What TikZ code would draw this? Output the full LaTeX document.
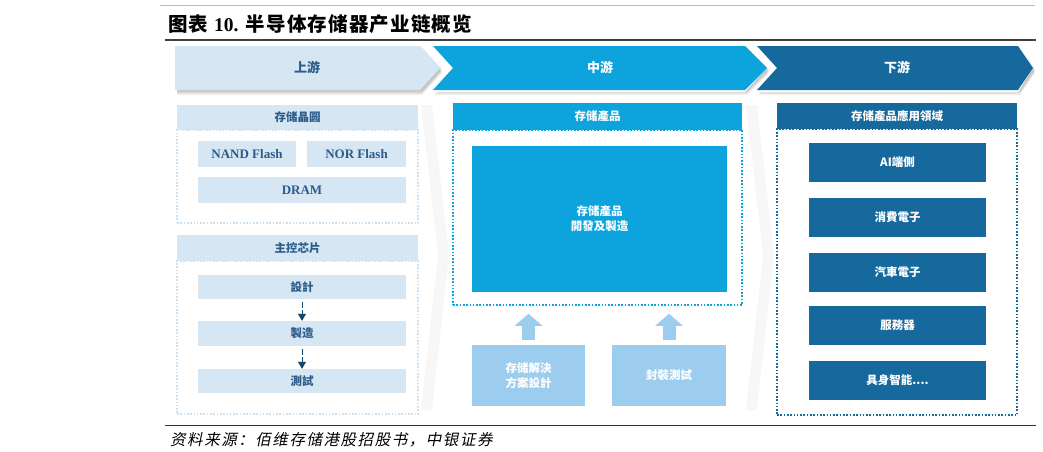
\documentclass[tikz,border=0pt]{standalone}
\usepackage{fontspec}
\setmainfont{Liberation Serif}
\newfontfamily\cjk{Noto Sans CJK SC}
\newfontfamily\cjkwide{Noto Sans CJK SC}[LetterSpace=6]
\newfontfamily\cjkslant{Noto Sans CJK SC}[FakeSlant=0.2, LetterSpace=10]
\usepackage{tikz}
\usetikzlibrary{arrows.meta, calc}
\definecolor{pale}{RGB}{214, 230, 242}
\definecolor{paletext}{RGB}{44, 92, 140}
\definecolor{mid}{RGB}{13, 163, 221}
\definecolor{deep}{RGB}{22, 105, 156}
\definecolor{sky}{RGB}{157, 205, 238}
\definecolor{navy}{RGB}{18, 72, 105}
\definecolor{paleline}{RGB}{205, 224, 240}
\definecolor{rosy}{RGB}{222, 170, 185}
\newcommand{\robottext}{具身智能....}

\begin{document}
\begin{tikzpicture}[x=1pt, y=-1pt,
    box/.style={inner sep=0pt, align=center, font=\cjk\bfseries\fontsize{11.5}{15}\selectfont},
    upbox/.style={box, fill=pale, text=paletext},
    midbox/.style={box, fill=mid, text=white},
    downbox/.style={box, fill=deep, text=white},
    stage/.style={box, font=\cjk\bfseries\fontsize{13}{15}\selectfont},
    latin/.style={upbox, font=\bfseries\fontsize{13}{15}\selectfont},
    frame/.style={draw, line width=1.6pt, dash pattern=on 1.6pt off 1.7pt, inner sep=0pt},
    flow/.style={navy, line width=1pt, dash pattern=on 6pt off 2pt, shorten <=3pt,
      -{Triangle[width=8pt, length=7pt]}},
    uparrow/.style={sky, line width=13pt, -{Triangle[width=27pt, length=12pt]}}]

  \useasboundingbox (0, 0) rectangle (1043, 451);

  % heading
  \draw[rosy, line width=0.8pt] (160, 5) -- (1035, 5);
  \node[anchor=west, inner sep=0pt, font=\cjkwide\bfseries\fontsize{19.5}{22}\selectfont] (title) at (168, 24)
    {图表 {\rmfamily\bfseries 10.} 半导体存储器产业链概览};
  \draw[black!75, line width=1.2pt] (165, 40) -- (1036, 40);

  % faint background chevrons
  \fill[black!3] (421, 105) -- (432, 105) -- (449, 255) -- (432, 410) -- (421, 410) -- (438, 255) -- cycle;
  \fill[black!3] (746, 105) -- (757, 105) -- (774, 255) -- (757, 410) -- (746, 410) -- (763, 255) -- cycle;

  % stage chevrons with soft shadow
  \foreach \i in {1, 2, ..., 5} {
    \fill[black, opacity=0.05, shift={(2, \i)}]
      (175, 46) -- (420, 46) -- (440, 68) -- (420, 90) -- (175, 90) -- cycle;
    \fill[black, opacity=0.05, shift={(2, \i)}]
      (433, 46) -- (745, 46) -- (767, 68) -- (745, 90) -- (433, 90) -- (453, 68) -- cycle;
    \fill[black, opacity=0.05, shift={(2, \i)}]
      (757, 46) -- (1018, 46) -- (1033, 68) -- (1018, 90) -- (757, 90) -- (777, 68) -- cycle;
  }
  \fill[pale] (175, 46) -- (420, 46) -- (440, 68) -- (420, 90) -- (175, 90) -- cycle;
  \fill[white] (429, 44) -- (745, 44) -- (767, 68) -- (745, 92) -- (429, 92) -- (449, 68) -- cycle;
  \fill[mid] (433, 46) -- (745, 46) -- (767, 68) -- (745, 90) -- (433, 90) -- (453, 68) -- cycle;
  \fill[white] (753, 44) -- (1018, 44) -- (1033, 68) -- (1018, 92) -- (753, 92) -- (773, 68) -- cycle;
  \fill[deep] (757, 46) -- (1018, 46) -- (1033, 68) -- (1018, 90) -- (757, 90) -- (777, 68) -- cycle;
  \node[stage, text=paletext] (up) at (307, 67) {上游};
  \node[stage, text=white] (midstream) at (600, 67) {中游};
  \node[stage, text=white] (down) at (897, 67) {下游};

  % upstream
  \node[frame, paleline, minimum width=241, minimum height=93] (frA) at (297.5, 176.5) {};
  \node[upbox, minimum width=241, minimum height=25] (wafer) at (297.5, 117.5) {存储晶圆};
  \node[latin, minimum width=98, minimum height=26] (nand) at (247, 154) {NAND Flash};
  \node[latin, minimum width=99, minimum height=26] (nor) at (356.5, 154) {NOR Flash};
  \node[latin, minimum width=208, minimum height=26] (dram) at (302, 190) {DRAM};

  \node[frame, paleline, minimum width=241, minimum height=153] (frB) at (297.5, 337.5) {};
  \node[upbox, minimum width=241, minimum height=26] (ctrl) at (297.5, 248) {主控芯片};
  \node[upbox, minimum width=208, minimum height=24] (design) at (302, 287) {設計};
  \node[upbox, minimum width=208, minimum height=25] (fab) at (302, 333.5) {製造};
  \node[upbox, minimum width=208, minimum height=24] (test) at (302, 381) {測試};
  \draw[flow] (design) -- (fab);
  \draw[flow] (fab) -- (test);

  % midstream
  \node[frame, mid, minimum width=289, minimum height=175] (frC) at (597.5, 217.5) {};
  \node[midbox, minimum width=289, minimum height=27] (product) at (597.5, 116.5) {存储產品};
  \node[midbox, minimum width=255, minimum height=146] (core) at (599.5, 219) {存储產品\\開發及製造};
  \node[box, fill=sky, text=white, minimum width=113, minimum height=61] (solution) at (528.5, 375.5)
    {存储解決\\方案設計};
  \node[box, fill=sky, text=white, minimum width=114, minimum height=61] (package) at (669, 375.5) {封裝測試};
  \draw[uparrow] ([yshift=5pt]solution.north) -- ([yshift=-8pt]solution.north |- frC.south);
  \draw[uparrow] ([yshift=5pt]package.north) -- ([yshift=-8pt]package.north |- frC.south);

  % downstream
  \node[frame, deep, minimum width=240, minimum height=286] (frD) at (897, 272) {};
  \node[downbox, minimum width=240, minimum height=26] (apps) at (897, 116) {存储產品應用領域};
  \foreach \y/\name/\txt in {162.5/ai/{AI端側}, 217.5/consumer/{消費電子}, 272/auto/{汽車電子},
      325.5/server/{服務器}, 380.5/robot/{\robottext}} {
    \node[downbox, minimum width=177, minimum height=39] (\name) at (897.5, \y) {\txt};
  }

  % source
  \draw[black!80, line width=1pt] (165, 425) -- (1036, 425);
  \node[anchor=west, inner sep=0pt, font=\cjkslant\fontsize{15.5}{17}\selectfont] (source) at (170, 440)
    {资料来源：佰维存储港股招股书，中银证券};

\end{tikzpicture}
\end{document}
